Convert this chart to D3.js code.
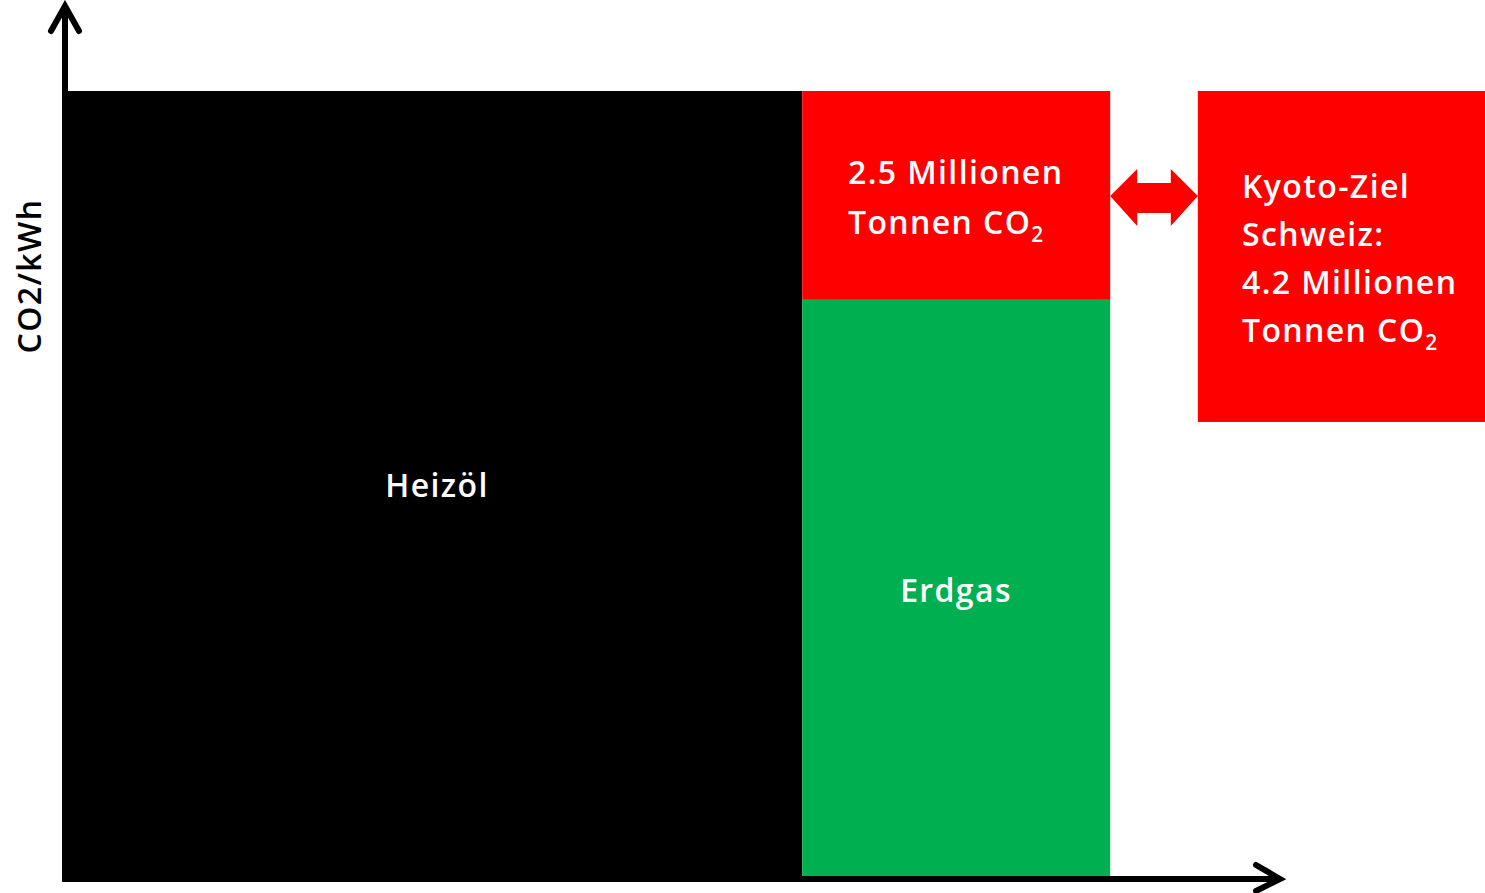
<!DOCTYPE html>
<html><head><meta charset="utf-8">
<script src="https://cdn.jsdelivr.net/npm/d3@7"></script>
<style>html,body{margin:0;padding:0;background:#fff;}svg{display:block;}</style>
</head><body>
<svg id="c" width="1485" height="893"></svg>
<script>
// Data (arbitrary units: x = energy share, y = CO2/kWh)
const blocks = ["Heizöl", "Erdgas", "Einsparung", "Kyoto-Ziel"];
const x0 = [0, 60.5, 60.5, 93.0];
const x1 = [60.5, 85.8, 85.8, 116.6];
const y0 = [0, 0, 73.5, 58.0];
const y1 = [100, 73.5, 100, 100];
const colors = ["#000000", "#00B050", "#FF0000", "#FF0000"];
const labelLines = [["Heizöl"], ["Erdgas"], ["2.5 Millionen", "Tonnen CO|2"], ["Kyoto-Ziel", "Schweiz:", "4.2 Millionen", "Tonnen CO|2"]];
const yLabel = "CO2/kWh";

const svg = d3.select("#c");
const x = d3.scaleLinear().domain([0, 100]).range([66, 1283]);
const y = d3.scaleLinear().domain([0, 100]).range([879, 91]);
const FONT = "'Open Sans', Lato, sans-serif";
const FS = 32, FW = 600;

svg.selectAll("rect.b").data(blocks).join("rect")
  .attr("class", "b")
  .attr("x", (d, i) => x(x0[i]))
  .attr("y", (d, i) => y(y1[i]))
  .attr("width", (d, i) => x(x1[i]) - x(x0[i]))
  .attr("height", (d, i) => y(y0[i]) - y(y1[i]))
  .attr("fill", (d, i) => colors[i]);

// Double arrow between the two red blocks
const ax0 = x(x1[2]), ax1 = x(x0[3]), ay = 196;
const pts = [[ax0, ay], [ax0 + 27, ay - 27], [ax0 + 27, ay - 13], [ax1 - 27, ay - 13], [ax1 - 27, ay - 27], [ax1, ay],
  [ax1 - 27, ay + 30], [ax1 - 27, ay + 17], [ax0 + 27, ay + 17], [ax0 + 27, ay + 30]];
svg.append("polygon").attr("points", pts.map(p => p.join(",")).join(" ")).attr("fill", "#FF0000");

// Axes with chevron arrowheads
const ax = svg.append("g").attr("fill", "none").attr("stroke", "#000").attr("stroke-width", 6);
ax.append("line").attr("x1", 65).attr("y1", 880).attr("x2", 65).attr("y2", 6);
ax.append("path").attr("d", "M51,31 L65,6 L79,31").attr("stroke-linecap", "round").attr("stroke-linejoin", "miter");
ax.append("line").attr("x1", 62).attr("y1", 879).attr("x2", 1280).attr("y2", 879);
ax.append("path").attr("d", "M1256,865 L1280,879 L1256,891").attr("stroke-linecap", "round");

// measure spacing needed so "2.5 Millionen" spans ~214px
const probe = svg.append("text").attr("font-family", FONT).attr("font-size", FS).attr("font-weight", FW).text("2.5 Millionen");
const w = probe.node().getComputedTextLength();
probe.remove();
const LS = Math.max(0, (214 - w) / 12);

function addLines(cx, startY, lh, lines, anchor) {
  lines.forEach((ln, k) => {
    const t = svg.append("text").attr("x", cx).attr("y", startY + k * lh)
      .attr("fill", "#fff").attr("font-family", FONT).attr("font-size", FS)
      .attr("font-weight", FW).attr("letter-spacing", LS)
      .attr("text-anchor", anchor);
    const parts = ln.split("|");
    t.append("tspan").text(parts[0]);
    if (parts[1]) t.append("tspan").attr("font-size", FS * 0.65).attr("dy", 8).text(parts[1]);
  });
}
addLines(437, 497, 0, labelLines[0], "middle");
addLines(956, 602, 0, labelLines[1], "middle");
addLines(848, 184, 50, labelLines[2], "start");
addLines(1242, 198, 48, labelLines[3], "start");

svg.append("text").attr("transform", "translate(41,276) rotate(-90)")
  .attr("text-anchor", "middle").attr("font-family", FONT).attr("font-size", FS)
  .attr("font-weight", FW).attr("letter-spacing", LS)
  .attr("fill", "#000").text(yLabel);
</script>
</body></html>
